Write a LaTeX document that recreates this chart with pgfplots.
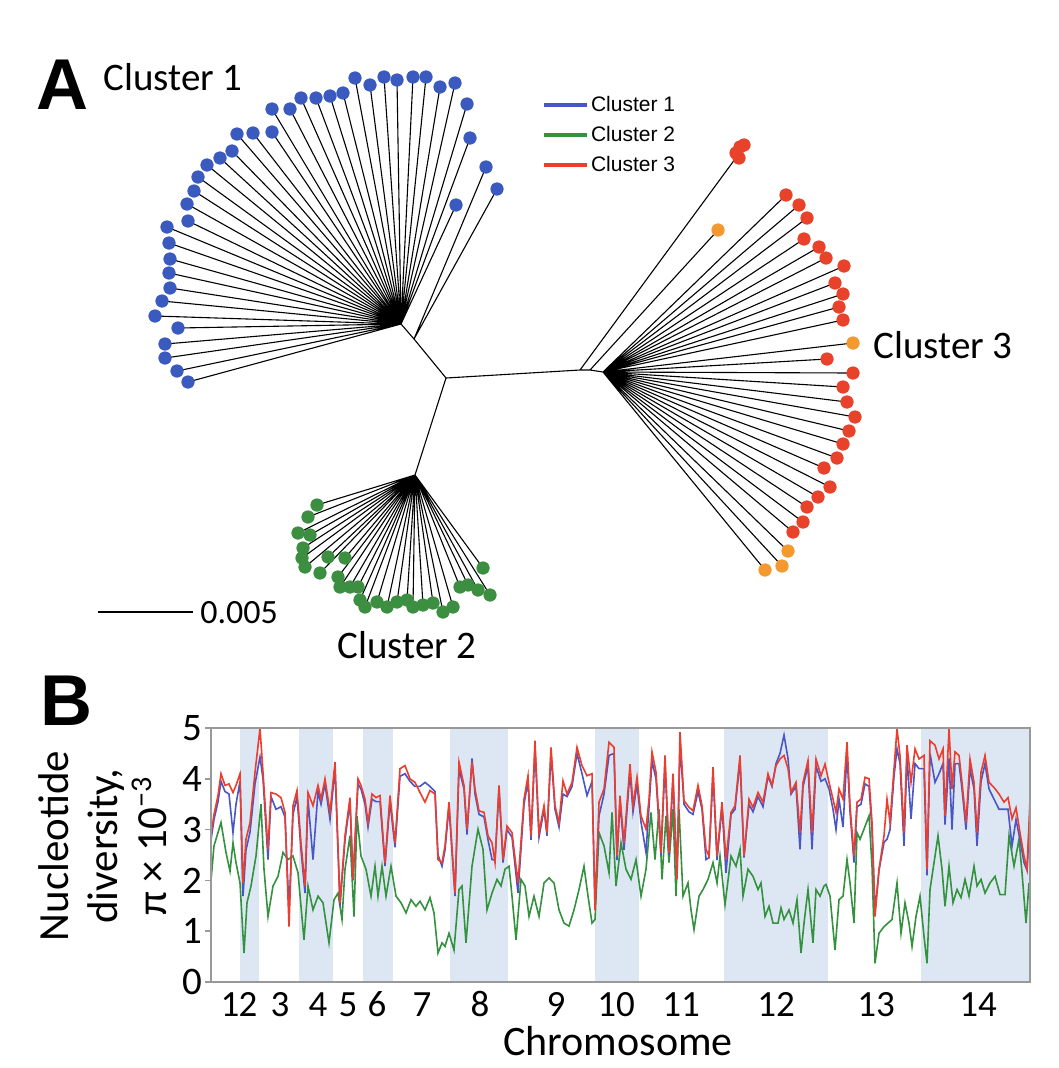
\documentclass[border=0pt]{standalone}
\usepackage{fontspec}
\setmainfont{Carlito}
\newfontfamily\arial{Liberation Sans}
\usepackage{pgfplots}
\pgfplotsset{compat=1.18}
\usepackage{pgfplotstable}
\definecolor{c1}{RGB}{72,86,198}
\definecolor{c2}{RGB}{52,145,62}
\definecolor{c3}{RGB}{236,62,46}
\definecolor{d1}{RGB}{58,90,192}
\definecolor{d2}{RGB}{60,142,64}
\definecolor{d3}{RGB}{233,66,42}
\definecolor{d4}{RGB}{244,152,48}
\definecolor{band}{RGB}{221,231,244}

\pgfplotstableread{
x r b
211 2.90 2.80
214 3.30 3.20
218 3.67 3.55
221 4.10 3.95
225 3.87 3.75
229 3.90 3.70
233 3.73 2.94
236 3.87 3.50
240 4.10 3.95
243 1.95 1.69
246 2.81 2.60
250 3.14 2.95
255 4.13 3.90
260 4.99 4.43
263 4.13 4.00
268 2.61 2.41
271 3.73 3.65
276 3.70 3.40
281 3.63 3.45
285 3.34 3.25
289 1.09 1.40
293 3.47 3.30
297 3.77 3.65
301 2.74 2.60
305 1.89 1.75
308 3.73 3.60
313 3.47 2.41
318 3.87 3.75
321 3.60 3.50
325 4.00 3.90
330 3.34 3.20
335 4.33 4.20
340 1.56 1.50
345 2.88 2.80
350 3.63 3.55
353 2.02 2.00
358 4.00 3.90
361 3.87 3.80
365 3.60 3.50
368 3.14 3.05
372 3.70 3.60
376 3.63 3.55
380 3.67 3.55
385 2.35 2.28
390 3.67 3.55
395 2.74 2.65
400 4.20 4.05
405 4.26 4.10
410 4.00 3.95
415 3.93 3.85
420 3.73 3.85
425 3.54 3.93
430 3.77 3.85
435 3.70 3.75
438 2.41 2.50
442 2.35 2.28
445 2.68 2.60
449 3.54 3.45
455 1.75 1.69
459 4.33 4.20
464 3.87 3.80
467 3.01 2.90
472 4.33 4.40
475 3.80 3.70
479 3.37 3.30
484 3.34 3.25
488 2.88 2.80
492 2.74 2.41
495 2.35 2.40
499 3.87 3.80
503 2.41 2.35
507 3.07 3.00
512 2.94 2.85
518 1.95 1.75
524 3.60 3.50
528 4.06 3.95
531 2.88 2.80
535 4.75 4.60
539 2.94 2.85
544 3.47 3.40
547 2.94 2.88
551 4.62 4.50
555 3.47 3.40
559 3.14 3.05
563 3.96 3.70
567 3.70 3.65
572 3.93 3.85
577 4.62 4.50
582 4.26 4.10
587 4.06 3.67
592 4.10 3.95
595 1.42 1.50
599 3.54 3.27
604 3.80 3.70
609 4.72 4.46
614 4.62 4.50
617 2.48 2.40
620 3.67 3.55
624 2.74 2.60
630 4.29 4.15
633 3.47 3.35
637 4.03 3.90
641 3.27 3.15
646 3.01 2.55
649 3.60 3.45
652 4.53 4.35
656 4.13 4.00
661 2.55 2.50
665 4.46 4.30
669 2.55 2.50
673 4.10 4.00
677 2.02 2.10
680 4.92 4.70
684 3.57 3.50
689 3.44 3.35
693 3.37 3.30
698 3.87 3.75
702 3.47 3.40
706 2.61 2.41
709 2.48 2.45
713 4.23 4.10
717 2.48 2.40
722 3.54 3.45
726 2.41 2.15
731 3.34 3.30
735 3.47 3.40
740 4.46 4.35
744 2.48 2.45
749 3.60 3.50
753 3.44 3.35
758 3.73 3.65
763 3.54 3.45
768 4.10 4.05
772 3.87 3.85
776 4.26 4.30
780 4.39 4.50
784 4.46 4.86
788 4.20 4.40
791 3.73 3.70
796 3.93 3.85
800 2.94 2.61
803 3.93 3.85
808 4.36 4.25
812 2.94 2.61
816 4.39 4.25
821 4.06 3.95
825 4.29 4.00
829 3.93 3.80
833 3.60 3.40
836 3.34 3.00
839 3.80 3.60
843 3.60 3.05
847 4.72 4.50
850 3.47 3.35
854 2.48 2.35
857 3.54 3.45
861 3.60 3.50
865 4.03 3.90
869 4.00 3.85
872 3.14 3.00
875 1.29 1.40
879 2.22 2.20
884 2.88 2.75
887 3.60 2.81
890 3.14 3.00
894 4.20 4.05
897 4.99 4.59
900 4.46 4.30
904 2.94 2.68
907 4.66 4.45
911 3.93 3.21
915 4.59 4.30
919 4.39 4.20
924 4.46 4.20
927 2.22 2.10
930 4.75 4.50
935 4.66 3.93
939 4.39 4.10
943 4.59 4.30
945 3.27 3.10
949 4.99 4.40
952 3.80 3.00
955 4.53 4.30
959 4.46 4.30
962 3.93 3.80
966 3.14 3.00
970 4.39 4.20
974 3.93 3.80
977 2.94 2.68
981 4.13 3.95
985 4.46 4.30
989 3.93 3.80
994 3.83 3.60
999 3.70 3.40
1004 3.54 3.40
1008 3.63 3.40
1012 3.21 2.68
1016 3.43 3.20
1020 2.94 2.80
1024 2.48 2.35
1027 2.22 2.20
1030 3.60 3.30
}\rbtab

\pgfplotstableread{
x g
211 2.00
214 2.68
221 3.14
226 2.55
230 2.18
233 2.74
236 2.35
240 1.95
244 0.57
247 1.56
251 1.89
256 2.48
261 3.50
264 2.22
268 1.29
273 1.89
278 2.08
283 2.55
288 2.41
293 2.48
298 2.15
304 0.83
308 1.89
313 1.42
318 1.69
323 1.56
329 0.77
334 1.62
338 1.75
342 1.23
345 2.22
350 2.88
354 1.29
357 3.27
361 2.48
366 2.22
371 1.69
375 2.28
378 1.69
382 2.28
386 1.69
391 2.28
396 1.69
401 1.56
406 1.36
411 1.62
416 1.49
420 1.59
425 1.42
430 1.66
434 1.36
438 0.57
442 0.77
445 0.70
449 0.96
454 0.63
459 1.82
462 1.89
466 0.77
472 2.28
478 3.01
483 2.61
487 1.42
492 1.75
497 2.02
501 1.89
505 2.22
509 2.28
512 1.69
516 0.83
521 2.02
525 1.89
529 1.29
534 1.69
539 1.29
544 1.95
549 2.05
554 1.95
559 1.42
564 1.16
569 1.10
574 1.42
579 1.82
584 2.28
588 1.69
592 1.16
595 1.23
599 2.94
604 2.68
609 2.15
612 3.34
616 1.89
621 2.74
626 2.22
631 2.02
636 2.41
641 1.69
646 2.22
651 3.34
655 2.41
659 3.40
662 2.02
666 3.27
669 2.35
673 3.40
676 1.69
679 3.40
683 1.69
688 1.95
691 1.42
694 1.03
699 1.69
703 1.82
708 2.02
713 2.35
717 1.95
720 2.48
725 1.52
731 2.48
736 2.28
740 2.61
743 1.69
748 2.22
753 2.08
758 1.82
761 1.95
765 1.29
769 1.49
773 1.16
778 1.16
781 1.46
784 1.23
789 1.42
793 1.16
797 1.62
801 0.57
804 1.16
808 1.82
813 0.77
816 1.82
820 1.69
824 1.89
826 1.92
830 1.69
835 0.63
839 1.62
843 1.69
847 2.41
850 1.95
854 1.16
857 2.94
860 2.81
864 3.01
869 3.27
872 2.28
875 0.37
879 0.96
884 1.09
888 1.16
892 1.23
897 1.95
901 0.96
905 1.56
909 1.16
912 0.70
916 1.29
920 1.69
924 0.90
927 0.37
930 1.82
935 2.48
938 2.88
942 2.22
945 1.49
949 2.28
953 1.56
957 1.82
961 1.66
965 2.02
969 1.69
974 2.28
977 1.89
981 2.02
985 1.75
990 1.95
995 2.08
1000 1.72
1005 1.72
1009 2.88
1014 2.28
1019 2.81
1022 2.15
1026 1.16
1029 1.95
1030 1.56
}\gtab

\begin{document}
\begin{tikzpicture}
\fill[white] (0,0) rectangle (529pt,-534pt);
% ---------------- Panel A (pixel coordinates) ----------------
\begin{axis}[at={(0pt,0pt)}, anchor=north west, scale only axis,
  width=529pt, height=534pt, xmin=0, xmax=1058, ymin=0, ymax=1068,
  y dir=reverse, hide axis, clip=false]
% tree branches
\addplot[black, line width=0.55pt, line join=round] coordinates {
(401,324)(188,382)(401,324)(177,371)(401,324)(165,358)(401,324)(165,344)(401,324)(178,328)
(401,324)(155,316)(401,324)(162,301)(401,324)(170,288)(401,324)(169,273)(401,324)(170,259)
(401,324)(169,243)(401,324)(167,227)(401,324)(188,221)(401,324)(187,204)(401,324)(194,191)
(401,324)(198,177)(401,324)(207,165)(401,324)(220,158)(401,324)(232,151)(401,324)(237,134)
(401,324)(253,133)(401,324)(272,132)(401,324)(272,109)(401,324)(290,109)(401,324)(301,98)
(401,324)(316,98)(401,324)(330,96)(401,324)(343,93)(401,324)(355,78)(401,324)(370,85)
(401,324)(384,77)(401,324)(397,80)(401,324)(413,77)(401,324)(426,77)(401,324)(440,87)
(401,324)(455,83)(401,324)(467,104)(401,324)(470,138)(401,324)(456,205)(401,324)
(414,339)(486,167)(414,339)(497,189)(414,339)(446,378)(580,370)(738,155)(580,370)
(590,370)(718,230)(590,370)(603,372)
(786,195)(603,372)(799,205)(603,372)(807,218)(603,372)(804,239)(603,372)(819,247)(603,372)
(826,258)(603,372)(844,266)(603,372)(835,283)(603,372)(843,294)(603,372)(839,307)(603,372)
(843,320)(603,372)(853,343)(603,372)(827,359)(603,372)(853,373)(603,372)(843,387)(603,372)
(847,402)(603,372)(855,417)(603,372)(849,431)(603,372)(843,444)(603,372)(837,458)(603,372)
(824,468)(603,372)(830,487)(603,372)(818,497)(603,372)(807,507)(603,372)(803,522)(603,372)
(793,532)(603,372)(788,551)(603,372)(782,566)(603,372)(765,570)
};
\addplot[black, line width=0.55pt, line join=round] coordinates {
(446,378)(415,475)
(317,505)(415,475)(308,517)(415,475)(298,533)(415,475)(310,535)(415,475)(303,548)(415,475)
(302,558)(415,475)(305,567)(415,475)(320,573)(415,475)(328,557)(415,475)(345,558)(415,475)
(338,577)(415,475)(340,587)(415,475)(350,587)(415,475)(358,587)(415,475)(360,600)(415,475)
(365,607)(415,475)(377,602)(415,475)(387,607)(415,475)(397,602)(415,475)(407,600)(415,475)
(413,607)(415,475)(423,605)(415,475)(433,603)(415,475)(443,612)(415,475)(453,607)(415,475)
(460,587)(415,475)(468,585)(415,475)(478,590)(415,475)(490,595)(415,475)(483,568)
};
% leaves
\addplot[only marks, mark=*, mark size=3.1pt, mark options={draw=d1, fill=d1}] coordinates {
(188,382)(177,371)(165,358)(165,344)(178,328)(155,316)(162,301)(170,288)(169,273)(170,259)
(169,243)(167,227)(188,221)(187,204)(194,191)(198,177)(207,165)(220,158)(232,151)(237,134)
(253,133)(272,132)(272,109)(290,109)(301,98)(316,98)(330,96)(343,93)(355,78)(370,85)
(384,77)(397,80)(413,77)(426,77)(440,87)(455,83)(467,104)(470,138)(456,205)(486,167)(497,189)
};
\addplot[only marks, mark=*, mark size=3.1pt, mark options={draw=d3, fill=d3}] coordinates {
(740,147)(736,153)(739,158)(744,145)
(786,195)(799,205)(807,218)(804,239)(819,247)(826,258)(844,266)(835,283)(843,294)(839,307)
(843,320)(827,359)(853,373)(843,387)(847,402)(855,417)(849,431)(843,444)(837,458)(824,468)
(830,487)(818,497)(807,507)(803,522)(793,532)
};
\addplot[only marks, mark=*, mark size=3.1pt, mark options={draw=d4, fill=d4}] coordinates {
(718,230)(853,343)(788,551)(782,566)(765,570)
};
\addplot[only marks, mark=*, mark size=3.1pt, mark options={draw=d2, fill=d2}] coordinates {
(317,505)(308,517)(298,533)(310,535)(303,548)(302,558)(305,567)(320,573)(328,557)(345,558)
(338,577)(340,587)(350,587)(358,587)(360,600)(365,607)(377,602)(387,607)(397,602)(407,600)
(413,607)(423,605)(433,603)(443,612)(453,607)(460,587)(468,585)(478,590)(490,595)(483,568)
};
% scale bar
\draw[black, line width=0.7pt] (axis cs:98,612) -- (axis cs:193,612);
\node[anchor=base west, inner sep=0pt, font=\fontsize{17}{17}\selectfont] at (axis cs:200,623) {0.005};
% labels
\node[anchor=base west, inner sep=0pt, font=\arial\bfseries\fontsize{36}{36}\selectfont] at (axis cs:36,109) {A};
\node[anchor=base west, inner sep=0pt, font=\arial\bfseries\fontsize{36}{36}\selectfont] at (axis cs:40,725) {B};
\node[anchor=base west, inner sep=0pt, font=\fontsize{19.5}{19.5}\selectfont] at (axis cs:103,90) {Cluster 1};
\node[anchor=base west, inner sep=0pt, font=\fontsize{19.5}{19.5}\selectfont] at (axis cs:873,358) {Cluster 3};
\node[anchor=base, inner sep=0pt, font=\fontsize{19.5}{19.5}\selectfont] at (axis cs:407,658) {Cluster 2};
% panel B axis titles
\node[rotate=90, align=center, inner sep=0pt, font=\fontsize{21.5}{24.5}\selectfont] at (axis cs:103,846)
  {Nucleotide\\diversity,\\π × 10\textsuperscript{−3}};
\node[anchor=base, inner sep=0pt, font=\fontsize{21}{21}\selectfont] at (axis cs:618,1055) {Chromosome};
\end{axis}
% ---------------- Panel B ----------------
\begin{axis}[at={(105.5pt,-491pt)}, anchor=south west, scale only axis,
  width=409.5pt, height=127pt, xmin=211, xmax=1030, ymin=0, ymax=5,
  axis on top,
  axis line style={draw=gray!80, line width=1pt},
  xtick={230,248,280,318,348,377,422,480,556,616,681,776,876,978},
  xticklabels={1,2,3,4,5,6,7,8,9,10,11,12,13,14},
  xtick style={draw=none},
  ytick={0,1,2,3,4,5}, ytick pos=left,
  tick align=outside, major tick length=3pt,
  ytick style={draw=gray!80, line width=0.8pt},
  /pgf/number format/assume math mode=true,
  yticklabel style={inner sep=1pt, font=\fontsize{19.5}{19.5}\selectfont},
  xticklabel style={inner sep=0pt, anchor=base, yshift=-14pt, font=\fontsize{18.5}{18.5}\selectfont},
  legend style={at={(axis description cs:0.4042,3.50)}, anchor=north west,
    draw=none, fill=none, inner sep=0pt, outer sep=0pt, row sep=3pt,
    font=\arial\fontsize{10.5}{12}\selectfont,
    nodes={inner sep=1pt, text height=8pt, text depth=2pt}},
  legend cell align=left,
  legend image code/.code={\draw[#1, line width=2pt] (0pt,0pt) -- (21.5pt,0pt);},
]
\addplot[fill=band, draw=none, forget plot] coordinates {(240,5)(259,5)} \closedcycle;
\addplot[fill=band, draw=none, forget plot] coordinates {(299,5)(333,5)} \closedcycle;
\addplot[fill=band, draw=none, forget plot] coordinates {(363,5)(393,5)} \closedcycle;
\addplot[fill=band, draw=none, forget plot] coordinates {(450,5)(508,5)} \closedcycle;
\addplot[fill=band, draw=none, forget plot] coordinates {(595,5)(639,5)} \closedcycle;
\addplot[fill=band, draw=none, forget plot] coordinates {(724,5)(828,5)} \closedcycle;
\addplot[fill=band, draw=none, forget plot] coordinates {(921,5)(1030,5)} \closedcycle;
\addplot[c2, line width=0.8pt, forget plot] table[x=x, y=g] {\gtab};
\addplot[c1, line width=0.8pt, forget plot] table[x=x, y=b] {\rbtab};
\addplot[c3, line width=0.8pt, forget plot] table[x=x, y=r] {\rbtab};
\addlegendimage{c1}\addlegendentry{Cluster 1}
\addlegendimage{c2}\addlegendentry{Cluster 2}
\addlegendimage{c3}\addlegendentry{Cluster 3}
\end{axis}
\end{tikzpicture}
\end{document}
